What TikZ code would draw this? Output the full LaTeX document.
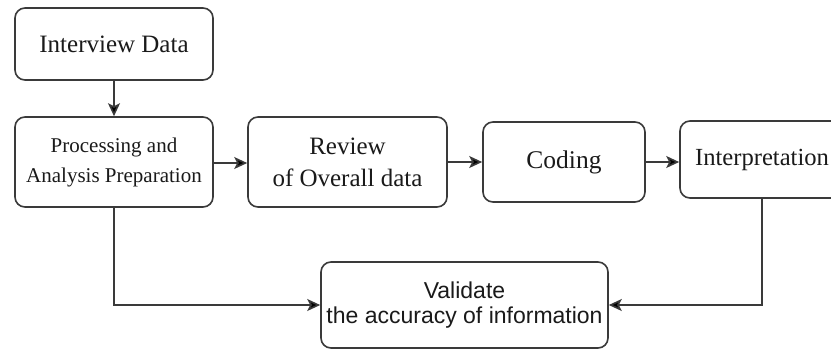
\documentclass[tikz,border=0pt]{standalone}
\usepackage{fontspec}
\setmainfont{Liberation Serif}
\newfontfamily\arialf{Liberation Sans}
\usetikzlibrary{arrows.meta}
\definecolor{edgec}{HTML}{3A3A3A}
\definecolor{txtc}{HTML}{1A1A1A}
\tikzset{
  box/.style={draw=edgec, line width=1.6pt, rounded corners=10pt, fill=white,
    text=txtc, align=center, inner sep=0pt},
  arr/.style={draw=edgec, line width=1.6pt,
    -{Stealth[length=13pt,width=12pt,inset=3pt,fill=black]}},
}
\begin{document}
\begin{tikzpicture}[x=1pt,y=-1pt]
\useasboundingbox (0,0) rectangle (831,349);
\clip (0,0) rectangle (831,349);
\node[box, minimum width=198pt, minimum height=72pt, font=\fontsize{25}{30}\selectfont] (intv) at (114,44) {Interview Data};
\node[box, minimum width=198pt, minimum height=90pt, font=\fontsize{21}{30}\selectfont] (proc) at (114,162) {Processing and\\Analysis Preparation};
\node[box, minimum width=199pt, minimum height=90pt, font=\fontsize{25}{32}\selectfont] (rev) at (347.5,162) {Review\\of Overall data};
\node[box, minimum width=162pt, minimum height=80pt, font=\fontsize{25.5}{30}\selectfont] (cod) at (564,162) {Coding};
\node[box, minimum width=164pt, minimum height=77pt, font=\fontsize{24.6}{30}\selectfont] (intp) at (762,159.5) {Interpretation};
\node[box, minimum width=287pt, minimum height=86pt, font=\arialf\fontsize{23}{25}\selectfont] (val) at (464.5,305) {Validate\\the accuracy of information};
\draw[arr] (intv) -- (proc);
\draw[arr] (proc.east |- 0,163) -- (rev.west |- 0,163);
\draw[arr] (rev) -- (cod);
\draw[arr] (cod.east |- 0,162) -- (intp.west |- 0,162);
\draw[arr] (proc.south) |- (val.west);
\draw[arr] (intp.south) |- (val.east);
\end{tikzpicture}
\end{document}
